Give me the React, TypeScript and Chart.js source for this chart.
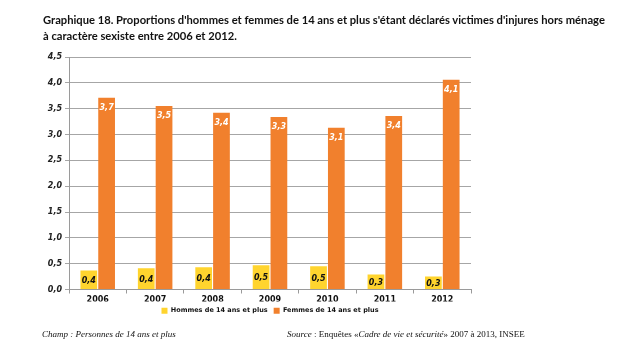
import React, { useEffect, useRef } from "react";
import { Chart, registerables } from "chart.js";

Chart.register(...registerables);

const categories = ["2006", "2007", "2008", "2009", "2010", "2011", "2012"];
const hommes = [0.37, 0.41, 0.43, 0.47, 0.45, 0.29, 0.25];
const femmes = [3.71, 3.55, 3.42, 3.34, 3.13, 3.36, 4.06];
const hommesLabels = ["0,4", "0,4", "0,4", "0,5", "0,5", "0,3", "0,3"];
const femmesLabels = ["3,7", "3,5", "3,4", "3,3", "3,1", "3,4", "4,1"];
const seriesNames = ["Hommes de 14 ans et plus", "Femmes de 14 ans et plus"];

const titleText1 =
  "Graphique 18. Proportions d'hommes et femmes de 14 ans et plus s'étant déclarés victimes d'injures hors ménage";
const titleText2 = "à caractère sexiste entre 2006 et 2012.";

const labelPlugin = {
  id: "barLabels",
  afterDatasetsDraw(chart: any) {
    const ctx = chart.ctx;
    ctx.save();
    ctx.font = "italic bold 8px 'DejaVu Sans'";
    ctx.textAlign = "center";
    ctx.textBaseline = "middle";
    chart.data.datasets.forEach((ds: any, i: number) => {
      const meta = chart.getDatasetMeta(i);
      meta.data.forEach((bar: any, j: number) => {
        const txt = i === 0 ? hommesLabels[j] : femmesLabels[j];
        if (i === 0) {
          ctx.fillStyle = "#111";
          ctx.fillText(txt, bar.x, (bar.y + bar.base) / 2 + 1);
        } else {
          ctx.fillStyle = "#ffffff";
          ctx.fillText(txt, bar.x, bar.y + 10);
        }
      });
    });
    ctx.restore();
  },
};

export default function App() {
  const ref = useRef<HTMLCanvasElement>(null);
  useEffect(() => {
    if (!ref.current) return;
    const chart = new Chart(ref.current, {
      type: "bar",
      data: {
        labels: categories,
        datasets: [
          {
            label: seriesNames[0],
            data: hommes,
            backgroundColor: "#FFD42E",
            categoryPercentage: 0.62,
            barPercentage: 0.94,
          },
          {
            label: seriesNames[1],
            data: femmes,
            backgroundColor: "#F1802D",
            categoryPercentage: 0.62,
            barPercentage: 0.94,
          },
        ],
      },
      options: {
        responsive: false,
        animation: false,
        layout: { padding: { left: 0, right: 149, top: 57, bottom: 31 } },
        scales: {
          x: {
            grid: {
              display: true,
              drawOnChartArea: false,
              drawTicks: true,
              tickLength: 4,
              color: "#9a9a9a",
              offset: true,
            },
            border: { color: "#9a9a9a" },
            ticks: {
              color: "#111",
              font: { family: "'DejaVu Sans'", size: 8, weight: "bold" },
              padding: 2,
            },
            afterFit: (s: any) => {
              s.height = 12;
            },
          },
          y: {
            min: 0,
            max: 4.5,
            ticks: {
              stepSize: 0.5,
              color: "#222",
              font: { family: "'DejaVu Sans'", size: 8, style: "italic", weight: "bold" },
              padding: 3,
              callback: (v: any) => Number(v).toFixed(1).replace(".", ","),
            },
            grid: { color: "#a6a6a6", tickLength: 4 },
            border: { color: "#9a9a9a" },
            afterFit: (s: any) => {
              s.width = 69;
            },
          },
        },
        plugins: {
          legend: {
            position: "bottom",
            fullSize: false,
            labels: {
              boxWidth: 6,
              boxHeight: 6,
              padding: 6,
              color: "#111",
              font: { family: "'DejaVu Sans'", size: 6.5, weight: "bold" },
            },
          },
          tooltip: { enabled: false },
        },
      },
      plugins: [labelPlugin],
    });
    return () => chart.destroy();
  }, []);

  return (
    <div style={{ position: "relative", width: 620, height: 355, margin: -8, background: "#fff" }}>
      <canvas ref={ref} width={620} height={355} style={{ position: "absolute", left: 0, top: 0 }} />
      <div
        style={{
          position: "absolute",
          left: 43,
          top: 12,
          fontFamily: "'Lato', sans-serif",
          fontWeight: "bold",
          fontSize: 11.2,
          lineHeight: "16px",
          color: "#111",
          whiteSpace: "nowrap",
        }}
      >
        <div>{titleText1}</div>
        <div>{titleText2}</div>
      </div>
      <div
        style={{
          position: "absolute",
          left: 42,
          top: 329,
          fontFamily: "'Liberation Serif', serif",
          fontStyle: "italic",
          fontSize: 9,
          color: "#111",
          whiteSpace: "nowrap",
        }}
      >
        Champ : Personnes de 14 ans et plus
      </div>
      <div
        style={{
          position: "absolute",
          left: 287,
          top: 329,
          fontFamily: "'Liberation Serif', serif",
          fontSize: 9,
          color: "#111",
          whiteSpace: "nowrap",
        }}
      >
        <i>Source</i> : Enquêtes «<i>Cadre de vie et sécurité</i>» 2007 à 2013, INSEE
      </div>
    </div>
  );
}
